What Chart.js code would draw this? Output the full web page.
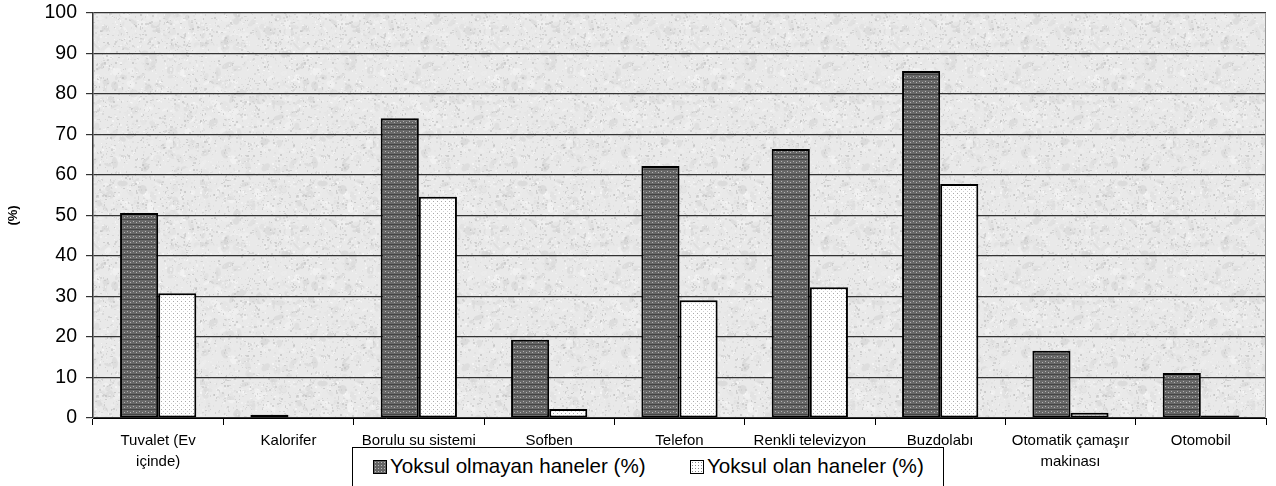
<!DOCTYPE html>
<html>
<head>
<meta charset="utf-8">
<script src="https://cdn.jsdelivr.net/npm/chart.js@4"></script>
<style>
  html, body { margin: 0; padding: 0; background: #fff; }
  #wrap { position: relative; width: 1276px; height: 486px; overflow: hidden; }
  #legend {
    position: absolute; left: 352px; top: 447px; width: 592px; height: 60px;
    border: 1px solid #000; background: #fff; box-sizing: border-box;
    font-family: "Liberation Sans", Arial, sans-serif; font-size: 20.6px; color: #000;
  }
  .item { position: absolute; top: 6px; white-space: nowrap; }
  .mark { display: inline-block; width: 12px; height: 12px; border: 1px solid #000; margin-right: 3px; vertical-align: -1px; }
  .m1 { background-color: #666; background-image: radial-gradient(#bbb 0.6px, transparent 0.8px); background-size: 3px 3px; }
  .m2 { background-color: #fff; background-image: radial-gradient(#888 0.5px, transparent 0.7px); background-size: 3px 3px; }
</style>
</head>
<body>
<div id="wrap">
  <canvas id="chart" width="1276" height="486"></canvas>
  <div id="legend">
    <div class="item" style="left:20px"><span class="mark m1"></span>Yoksul olmayan haneler (%)</div>
    <div class="item" style="left:337px"><span class="mark m2"></span>Yoksul olan haneler (%)</div>
  </div>
</div>
<script>
document.addEventListener('DOMContentLoaded', function () {
    // Categories (x axis)
    const categories = [
        ['Tuvalet (Ev', 'içinde)'],
        'Kalorifer',
        'Borulu su sistemi',
        'Sofben',
        'Telefon',
        'Renkli televizyon',
        'Buzdolabı',
        ['Otomatik çamaşır', 'makinası'],
        'Otomobil'
    ];
    const seriesNames = ['Yoksul olmayan haneler (%)', 'Yoksul olan haneler (%)'];
    // Values
    const notPoor = [50.6, 0.8, 74.0, 19.3, 62.2, 66.4, 85.7, 16.6, 11.1];
    const poor = [30.8, 0, 54.6, 2.2, 29.1, 32.3, 57.8, 1.3, 0.6];
    const yTicks = [0, 10, 20, 30, 40, 50, 60, 70, 80, 90, 100];

    // simple seeded generator for the background texture
    let seed = 12345;
    function rnd() {
        seed = (seed * 1103515245 + 12345) % 2147483648;
        return seed / 2147483648;
    }

    // Granite-like texture for the plot area
    function makeTexture() {
        const c = document.createElement('canvas');
        c.width = 200; c.height = 200;
        const g = c.getContext('2d');
        g.fillStyle = '#e9e9e9';
        g.fillRect(0, 0, 200, 200);
        for (let i = 0; i < 500; i++) {
            const v = Math.floor(205 + rnd() * 45);
            g.fillStyle = 'rgba(' + v + ',' + v + ',' + v + ',0.5)';
            g.beginPath();
            g.ellipse(rnd() * 200, rnd() * 200, 2 + rnd() * 4, 1 + rnd() * 3, rnd() * 3, 0, Math.PI * 2);
            g.fill();
        }
        for (let i = 0; i < 3500; i++) {
            const v = Math.floor(185 + rnd() * 70);
            g.fillStyle = 'rgba(' + v + ',' + v + ',' + v + ',0.6)';
            g.fillRect(Math.floor(rnd() * 200), Math.floor(rnd() * 200), 1 + Math.floor(rnd() * 2), 1 + Math.floor(rnd() * 2));
        }
        return c;
    }

    // Dark bar fill: grey with light dots and darker lines
    function makeDarkPattern(ctx) {
        const c = document.createElement('canvas');
        c.width = 6; c.height = 5;
        const g = c.getContext('2d');
        g.fillStyle = '#686868';
        g.fillRect(0, 0, 6, 5);
        g.fillStyle = '#454545';
        g.fillRect(0, 4, 6, 1);
        g.fillStyle = '#b4b4b4';
        g.fillRect(1, 1, 1, 1);
        g.fillRect(4, 2, 1, 1);
        return ctx.createPattern(c, 'repeat');
    }

    // Light bar fill: white with fine grey dots
    function makeLightPattern(ctx) {
        const c = document.createElement('canvas');
        c.width = 4; c.height = 4;
        const g = c.getContext('2d');
        g.fillStyle = '#ffffff';
        g.fillRect(0, 0, 4, 4);
        g.fillStyle = '#a8a8a8';
        g.fillRect(1, 1, 1, 1);
        g.fillStyle = '#d0d0d0';
        g.fillRect(3, 3, 1, 1);
        return ctx.createPattern(c, 'repeat');
    }

    const canvas = document.getElementById('chart');
    const ctx = canvas.getContext('2d');
    const texture = ctx.createPattern(makeTexture(), 'repeat');

    const plotBackground = {
        id: 'plotBackground',
        beforeDraw(chart) {
            const a = chart.chartArea;
            const c = chart.ctx;
            c.save();
            c.fillStyle = texture;
            c.fillRect(a.left, a.top, a.right - a.left, a.bottom - a.top);
            c.restore();
        },
        afterDatasetsDraw(chart) {
            const a = chart.chartArea;
            const c = chart.ctx;
            c.save();
            c.strokeStyle = '#999';
            c.lineWidth = 1;
            c.beginPath();
            c.moveTo(a.right - 0.5, a.top);
            c.lineTo(a.right - 0.5, a.bottom);
            c.stroke();
            c.restore();
        }
    };

    Chart.defaults.font.family = '"Liberation Sans", Arial, sans-serif';
    Chart.defaults.color = '#000';

    new Chart(ctx, {
        type: 'bar',
        data: {
            labels: categories,
            datasets: [
                {
                    label: seriesNames[0],
                    data: notPoor,
                    backgroundColor: makeDarkPattern(ctx),
                    borderColor: '#000',
                    borderWidth: 2,
                    borderSkipped: false
                },
                {
                    label: seriesNames[1],
                    data: poor,
                    backgroundColor: makeLightPattern(ctx),
                    borderColor: '#000',
                    borderWidth: 2,
                    borderSkipped: false
                }
            ]
        },
        options: {
            responsive: false,
            animation: false,
            layout: { padding: { left: 0, top: 13, right: 10, bottom: 0 } },
            datasets: { bar: { categoryPercentage: 0.585, barPercentage: 1.0 } },
            plugins: {
                legend: { display: false },
                tooltip: { enabled: false }
            },
            scales: {
                x: {
                    afterFit(scale) { scale.height = 68; },
                    grid: {
                        offset: true,
                        drawOnChartArea: false,
                        drawTicks: true,
                        tickLength: 7,
                        color: '#000'
                    },
                    border: { color: '#000', width: 1 },
                    ticks: {
                        font: { size: 15, lineHeight: 1.4 },
                        padding: 5,
                        maxRotation: 0,
                        autoSkip: false
                    }
                },
                y: {
                    min: 0,
                    max: 100,
                    afterFit(scale) {
                        scale.width = 93;
                        scale.paddingTop = 0;
                        scale.paddingBottom = 0;
                    },
                    afterBuildTicks(scale) {
                        scale.ticks = yTicks.map(v => ({ value: v }));
                    },
                    grid: {
                        color: '#333',
                        lineWidth: 1.2,
                        tickLength: 7
                    },
                    border: { color: '#333', width: 1.5 },
                    ticks: {
                        font: { size: 19.5 },
                        padding: 9
                    },
                    title: {
                        display: true,
                        text: '(%)',
                        font: { size: 13, weight: 'bold' },
                        padding: { top: 6, bottom: 0 }
                    }
                }
            }
        },
        plugins: [plotBackground]
    });
});
</script>
</body>
</html>
